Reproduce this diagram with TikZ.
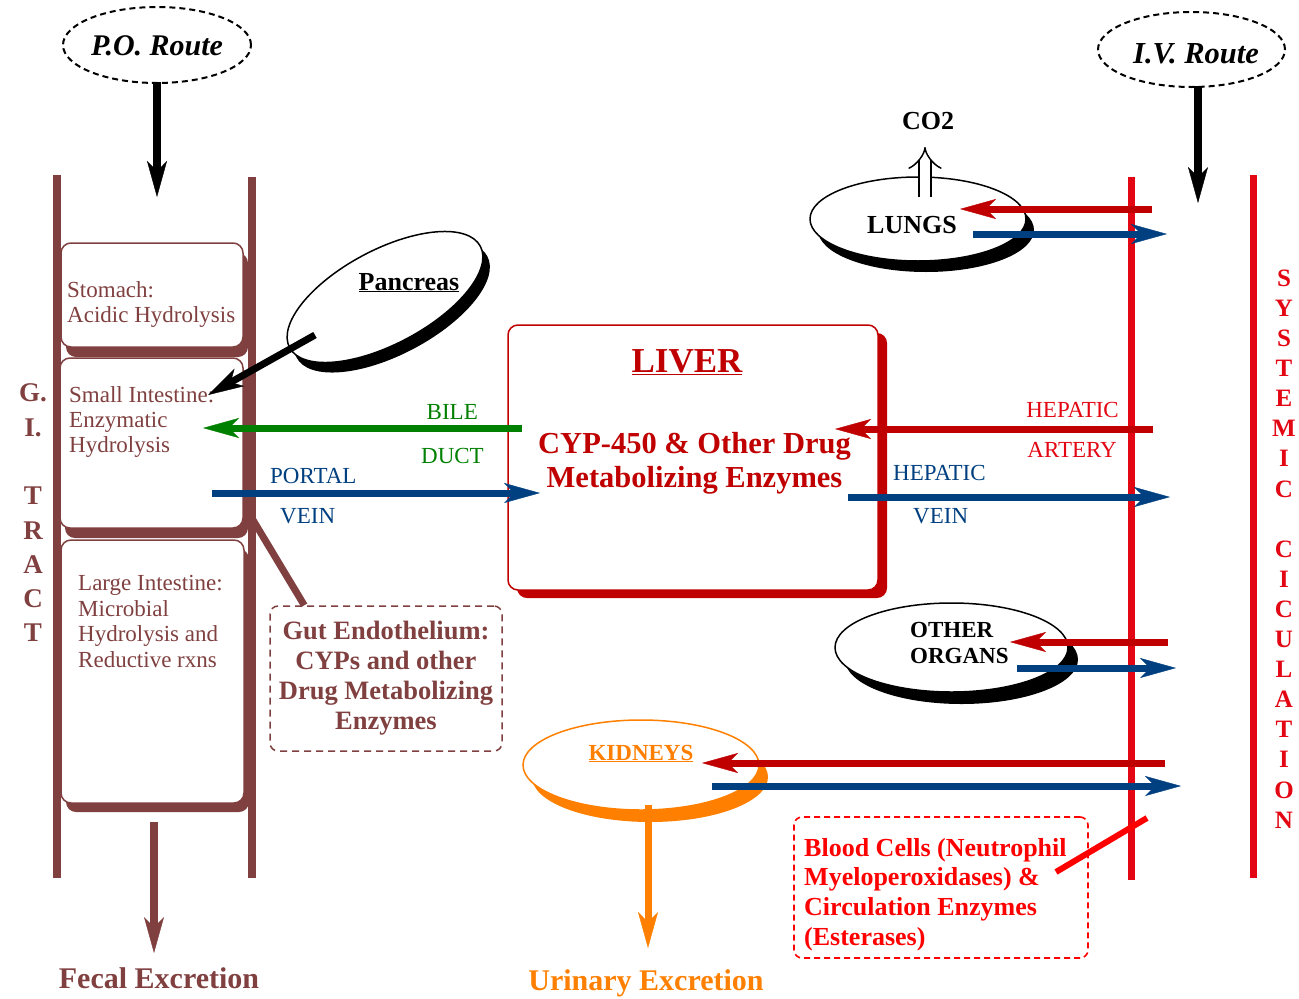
\documentclass[tikz,border=0pt]{standalone}
\usepackage{fontspec}
\setmainfont{Liberation Serif}
\usetikzlibrary{arrows.meta,shapes.geometric}
\definecolor{gibrown}{RGB}{128,64,64}
\definecolor{liverred}{RGB}{192,0,0}
\definecolor{circred}{RGB}{227,6,19}
\definecolor{veinblue}{RGB}{0,64,128}
\definecolor{bilegreen}{RGB}{0,128,0}
\definecolor{kidorange}{RGB}{255,128,0}
\definecolor{bloodred}{RGB}{255,0,0}
\newcommand{\myfs}[2]{\fontsize{#1}{#2}\selectfont}
\tikzset{
  flow/.style={line width=7pt, -{Stealth[length=36pt,width=20pt,inset=10pt,line width=0.4pt]}},
  routearr/.style={flow, draw=black, line width=8pt},
  gibox/.style={draw=gibrown, line width=1.5pt, fill=white, rounded corners=10pt, inner sep=0pt},
  oval/.style={ellipse, draw=black, line width=1.5pt, fill=white, inner sep=0pt},
  routeoval/.style={ellipse, draw=black, line width=2pt, dash pattern=on 6pt off 4pt, inner sep=0pt},
  lbl/.style={inner sep=0pt},
  wall/.style={line width=8pt},
}
\begin{document}
\begin{tikzpicture}[x=1pt,y=-1pt]
\useasboundingbox (0,0) rectangle (1299,999);

% ---------- routes ----------
\node[routeoval, minimum width=188pt, minimum height=76pt] (po) at (157,45) {};
\node[lbl, anchor=base, font=\myfs{30}{34}\bfseries\itshape] (potxt) at (157,55) {P.O. Route};
\node[routeoval, minimum width=187pt, minimum height=75pt] (iv) at (1191.5,49.5) {};
\node[lbl, anchor=base, font=\myfs{30.5}{34}\bfseries\itshape] (ivtxt) at (1196,63) {I.V. Route};

% ---------- GI tract compartments ----------
\fill[gibrown, rounded corners=10pt, shift={(5,10)}] (61,243) rectangle (243,347);
\node[gibox, minimum width=182pt, minimum height=104pt] (stomach) at (152,295) {};
\fill[gibrown, rounded corners=10pt, shift={(5,10)}] (60,358) rectangle (243,528);
\node[gibox, minimum width=183pt, minimum height=170pt] (smallint) at (151.5,443) {};
\fill[gibrown, rounded corners=10pt, shift={(5,9)}] (61,540) rectangle (244,803);
\node[gibox, minimum width=183pt, minimum height=263pt] (largeint) at (152.5,671.5) {};

\node[lbl, anchor=north west, align=left, text=gibrown, font=\myfs{23}{25.5}] (stomachtxt) at (67,281) {Stomach:\\Acidic Hydrolysis};
\node[lbl, anchor=north west, align=left, text=gibrown, font=\myfs{23}{25}] (smalltxt) at (69,386) {Small Intestine:\\Enzymatic\\Hydrolysis};
\node[lbl, anchor=north west, align=left, text=gibrown, font=\myfs{23}{25.7}] (largetxt) at (78,575) {Large Intestine:\\Microbial\\Hydrolysis and\\Reductive rxns};

% walls
\draw[gibrown, wall] (57,175) -- (57,878);
\draw[gibrown, wall] (252,177) -- (252,878);

\node[lbl, align=center, text=gibrown, font=\myfs{27}{34.3}\bfseries] (gitract) at (33,513) {G.\\I.\\\mbox{}\\T\\R\\A\\C\\T};

% ---------- systemic circulation ----------
\draw[circred, line width=7pt] (1131,177) -- (1131,880);
\draw[circred, line width=7pt] (1253,175) -- (1253,878);
\node[lbl, align=center, text=circred, font=\myfs{25}{30.1}\bfseries] (systemic) at (1284,549) {S\\Y\\S\\T\\E\\M\\I\\C\\\mbox{}\\C\\I\\C\\U\\L\\A\\T\\I\\O\\N};

% ---------- liver ----------
\fill[liverred, rounded corners=10pt, shift={(9,8)}] (508,325) rectangle (878,590);
\node[draw=liverred, line width=1.5pt, fill=white, rounded corners=10pt, inner sep=0pt, minimum width=370pt, minimum height=265pt] (liver) at (693,457.5) {};
\node[lbl, anchor=base, text=liverred, font=\myfs{35}{40}\bfseries] (livertitle) at (687,372) {\underline{LIVER}};
\node[lbl, anchor=north, align=center, text=liverred, font=\myfs{30.5}{34}\bfseries] (livertxt) at (694.5,432) {CYP-450 \& Other Drug\\Metabolizing Enzymes};

% ---------- pancreas ----------
\fill[black, rotate around={28:(392,307)}] (392,307) ellipse [x radius=108, y radius=47];
\node[oval, rotate=28, minimum width=216pt, minimum height=94pt] (pancreas) at (385,297) {};
\node[lbl, anchor=base, font=\myfs{26}{30}\bfseries] (panctxt) at (409,290) {\underline{Pancreas}};

% ---------- lungs ----------
\fill[black] (926,230) ellipse [x radius=108, y radius=42];
\node[oval, minimum width=216pt, minimum height=84pt] (lungs) at (918,219) {};
\node[lbl, anchor=base, font=\myfs{26}{30}\bfseries] (lungstxt) at (912,233) {LUNGS};
\node[lbl, anchor=base, font=\myfs{26}{30}\bfseries] (co2) at (928,129) {CO2};

% ---------- other organs ----------
\fill[black] (961.5,659.5) ellipse [x radius=116.5, y radius=44.5];
\node[oval, minimum width=233pt, minimum height=89pt] (organs) at (951.5,647.5) {};
\node[lbl, anchor=north west, align=left, font=\myfs{23}{26.5}\bfseries] (organstxt) at (910,622) {OTHER\\ORGANS};

% ---------- kidneys ----------
\fill[kidorange] (650,777) ellipse [x radius=118, y radius=45];
\node[ellipse, draw=kidorange, line width=1.5pt, fill=white, inner sep=0pt, minimum width=236pt, minimum height=90pt] (kidneys) at (641,765) {};
\node[lbl, anchor=base, text=kidorange, font=\myfs{23}{27}\bfseries] (kidtxt) at (641,760) {\underline{KIDNEYS}};

% ---------- gut endothelium & blood cells ----------
\node[draw=gibrown, line width=1.5pt, dash pattern=on 7pt off 5pt, rounded corners=8pt, inner sep=0pt, minimum width=232pt, minimum height=145pt, align=center, text=gibrown, font=\myfs{26.5}{30}\bfseries] (gut) at (386,678.5) {Gut Endothelium:\\CYPs and other\\Drug Metabolizing\\Enzymes};
\node[draw=bloodred, line width=1.6pt, dash pattern=on 6pt off 4pt, rounded corners=8pt, inner sep=0pt, minimum width=294pt, minimum height=141pt] (blood) at (941,887.5) {};
\node[lbl, anchor=north west, align=left, text=bloodred, font=\myfs{26}{29.7}\bfseries] (bloodtxt) at (804,838) {Blood Cells (Neutrophil\\Myeloperoxidases) \&\\Circulation Enzymes\\(Esterases)};

% ---------- coordinates for connector ends ----------
\coordinate (gitop) at (157,197);
\coordinate (ivend) at (1198,203);
\coordinate (pancout) at (315,335);
\coordinate (pancin) at (208,395);
\coordinate (bilestart) at (522,428);
\coordinate (biletip) at (203,428);
\coordinate (portalstart) at (212,493);
\coordinate (portaltip) at (540,493);
\coordinate (hastart) at (1153,429);
\coordinate (hatip) at (835,429);
\coordinate (hvstart) at (848,497);
\coordinate (hvtip) at (1170,497);
\coordinate (lungin0) at (1152,209);
\coordinate (lungin1) at (960,209);
\coordinate (lungout0) at (973,234);
\coordinate (lungout1) at (1167,234);
\coordinate (orgin0) at (1168,642);
\coordinate (orgin1) at (1010,642);
\coordinate (orgout0) at (1017,668);
\coordinate (orgout1) at (1176,668);
\coordinate (kidin0) at (1165,763);
\coordinate (kidin1) at (702,763);
\coordinate (kidout0) at (712,786);
\coordinate (kidout1) at (1181,786);
\coordinate (urstart) at (648,805);
\coordinate (urtip) at (648,948);
\coordinate (fecstart) at (154,822);
\coordinate (fectip) at (154,953);
\coordinate (gutwall) at (253,520);
\coordinate (bloodline) at (1147,818);
\coordinate (bloodin) at (1056,872);
\coordinate (co2start) at (925,197);
\coordinate (co2tip) at (925,147);

% ---------- connectors ----------
\draw[routearr] ([yshift=2pt]po.south) -- (gitop);
\draw[routearr] ([xshift=6.5pt,yshift=2pt]iv.south) -- (ivend);
\draw[flow, draw=black] (pancout) -- (pancin);
\draw[flow, draw=bilegreen] (bilestart) -- (biletip);
\draw[flow, draw=veinblue] (portalstart) -- (portaltip);
\draw[flow, draw=liverred] (hastart) -- (hatip);
\draw[flow, draw=veinblue] (hvstart) -- (hvtip);
\draw[flow, draw=liverred] (lungin0) -- (lungin1);
\draw[flow, draw=veinblue] (lungout0) -- (lungout1);
\draw[flow, draw=liverred] (orgin0) -- (orgin1);
\draw[flow, draw=veinblue] (orgout0) -- (orgout1);
\draw[flow, draw=liverred] (kidin0) -- (kidin1);
\draw[flow, draw=veinblue] (kidout0) -- (kidout1);
\draw[flow, draw=kidorange] (urstart) -- (urtip);
\draw[flow, draw=gibrown, line width=8pt] (fecstart) -- (fectip);
\draw[gibrown, line width=7pt] (gutwall) -- ([xshift=35pt]gut.north west);
\draw[bloodred, line width=6pt] (bloodin) -- (bloodline);
\draw[line width=1.5pt, double=white, double distance=10.5pt, -{Implies}] (co2start) -- (co2tip);

% ---------- flow labels ----------
\node[lbl, anchor=base east, text=bilegreen, font=\myfs{23}{27}] (bile) at (478,419) {BILE};
\node[lbl, anchor=base east, text=bilegreen, font=\myfs{23}{27}] (duct) at (484,463) {DUCT};
\node[lbl, anchor=base west, text=veinblue, font=\myfs{23}{27}] (portal) at (270,483) {PORTAL};
\node[lbl, anchor=base west, text=veinblue, font=\myfs{23}{27}] (pvein) at (280,523) {VEIN};
\node[lbl, anchor=base east, text=circred, font=\myfs{23}{27}] (hepa) at (1119,417) {HEPATIC};
\node[lbl, anchor=base east, text=circred, font=\myfs{23}{27}] (artery) at (1117,457) {ARTERY};
\node[lbl, anchor=base west, text=veinblue, font=\myfs{23}{27}] (hepv) at (893,480) {HEPATIC};
\node[lbl, anchor=base west, text=veinblue, font=\myfs{23}{27}] (hvein) at (913,523) {VEIN};

% ---------- excretion ----------
\node[lbl, anchor=base, text=gibrown, font=\myfs{30}{34}\bfseries] (fecal) at (159,988) {Fecal Excretion};
\node[lbl, anchor=base, text=kidorange, font=\myfs{30}{34}\bfseries] (urinary) at (646,990) {Urinary Excretion};
\end{tikzpicture}
\end{document}
